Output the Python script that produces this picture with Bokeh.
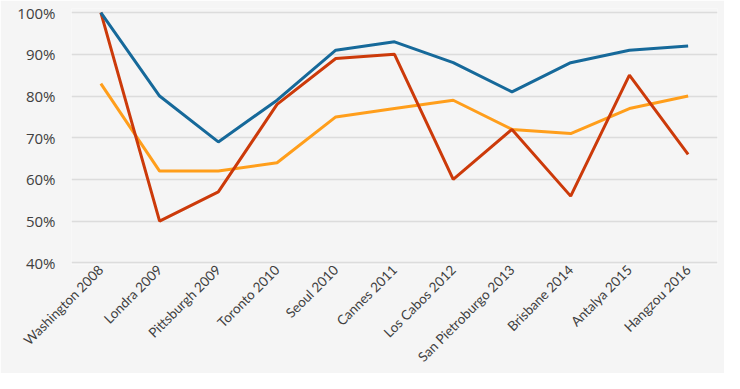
import math
from bokeh.plotting import figure
from bokeh.models import FixedTicker, Range1d, FactorRange, CustomJSTickFormatter
from bokeh.embed import file_html
from bokeh.resources import INLINE

categories = ["Washington 2008", "Londra 2009", "Pittsburgh 2009", "Toronto 2010",
              "Seoul 2010", "Cannes 2011", "Los Cabos 2012", "San Pietroburgo 2013",
              "Brisbane 2014", "Antalya 2015", "Hangzou 2016"]
blue_values = [100, 80, 69, 79, 91, 93, 88, 81, 88, 91, 92]
red_values = [100, 50, 57, 78, 89, 90, 60, 72, 56, 85, 66]
orange_values = [83, 62, 62, 64, 75, 77, 79, 72, 71, 77, 80]
y_ticks = [40, 50, 60, 70, 80, 90, 100]
y_min, y_max = 39.6, 101

bg = "#f5f5f5"
p = figure(width=724, height=373, x_range=FactorRange(*categories),
           y_range=Range1d(y_min, y_max), output_backend="svg", toolbar_location=None,
           min_border_left=71, min_border_right=7, min_border_top=8, min_border_bottom=109,
           background_fill_color=bg, border_fill_color=bg)
p.outline_line_color = None

p.line(categories, orange_values, line_color="#ff9e1b", line_width=3)
p.line(categories, red_values, line_color="#cc3a0a", line_width=3)
p.line(categories, blue_values, line_color="#16699a", line_width=3)

p.xgrid.grid_line_color = None
p.ygrid.grid_line_color = "#dcdcdc"
p.ygrid.grid_line_width = 1.5
p.yaxis.ticker = FixedTicker(ticks=y_ticks)
p.yaxis.formatter = CustomJSTickFormatter(code="return tick + '%';")

for ax in (p.xaxis, p.yaxis):
    ax.axis_line_color = None
    ax.major_tick_line_color = None
    ax.minor_tick_line_color = None
    ax.major_tick_out = 0
    ax.major_tick_in = 0
    ax.major_label_text_color = "#404040"

p.yaxis.major_label_text_font = "Open Sans"
p.yaxis.major_label_text_font_size = "15px"
p.yaxis.major_label_standoff = 16

p.xaxis.major_label_text_font = "Lato"
p.xaxis.major_label_text_font_size = "13.5px"
p.xaxis.major_label_orientation = math.pi / 4
p.xaxis.major_label_standoff = 3

open("out.html", "w").write(file_html(p, INLINE))
